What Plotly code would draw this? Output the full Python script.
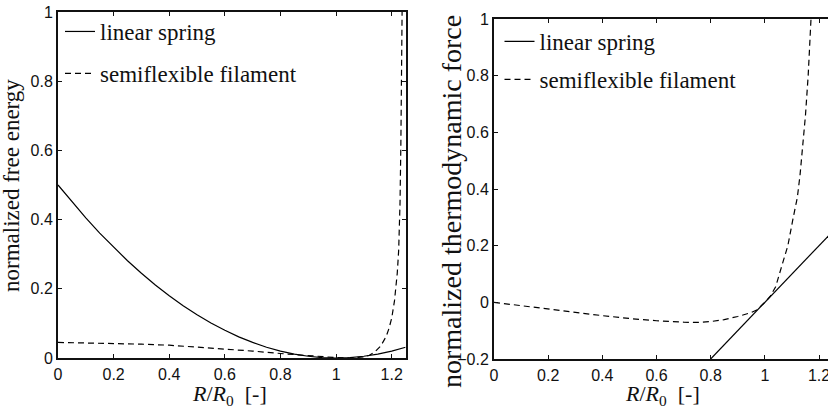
import plotly.graph_objects as go

# ---------------- data ----------------
spring_energy_x = [0, 0.05, 0.1, 0.15, 0.2, 0.25, 0.3, 0.35, 0.4, 0.45, 0.5, 0.55, 0.6,
                   0.65, 0.7, 0.75, 0.8, 0.85, 0.9, 0.95, 1.0, 1.05, 1.1, 1.15, 1.2, 1.25]
spring_energy_y = [0.5, 0.451, 0.405, 0.361, 0.32, 0.281, 0.245, 0.211, 0.18, 0.151, 0.125,
                   0.101, 0.08, 0.061, 0.045, 0.031, 0.02, 0.011, 0.005, 0.001, 0.0, 0.001,
                   0.005, 0.011, 0.02, 0.031]

semi_energy_x = [0, 0.1, 0.2, 0.3, 0.4, 0.5, 0.6, 0.7, 0.8, 0.9, 0.95, 1.0, 1.05, 1.1,
                 1.12, 1.14, 1.16, 1.18, 1.19, 1.2, 1.21, 1.22, 1.225, 1.23, 1.233, 1.235,
                 1.237, 1.238]
semi_energy_y = [0.045, 0.044, 0.043, 0.040, 0.037, 0.032, 0.027, 0.020, 0.013, 0.006,
                 0.003, 0.001, 0.0, 0.003, 0.008, 0.018, 0.034, 0.062, 0.085, 0.115, 0.165,
                 0.245, 0.31, 0.45, 0.62, 0.80, 1.0, 1.05]

spring_force_x = [0.8, 0.9, 1.0, 1.1, 1.2, 1.25]
spring_force_y = [-0.2, -0.1, 0.0, 0.1, 0.2, 0.25]

semi_force_x = [0, 0.1, 0.2, 0.3, 0.4, 0.5, 0.6, 0.7, 0.75, 0.8, 0.85, 0.9, 0.95, 0.97,
                1.0, 1.02, 1.04, 1.06, 1.085, 1.105, 1.12, 1.13, 1.14, 1.15, 1.16, 1.169,
                1.173]
semi_force_y = [0.0, -0.012, -0.025, -0.036, -0.047, -0.057, -0.065, -0.070, -0.071,
                -0.068, -0.061, -0.050, -0.036, -0.027, 0.0, 0.022, 0.055, 0.12, 0.2, 0.3,
                0.37, 0.45, 0.55, 0.66, 0.8, 1.0, 1.05]

x_ticks = [0, 0.2, 0.4, 0.6, 0.8, 1, 1.2]
x_tick_text = ["0", "0.2", "0.4", "0.6", "0.8", "1", "1.2"]
y_ticks_left = [0, 0.2, 0.4, 0.6, 0.8, 1]
y_tick_text_left = ["0", "0.2", "0.4", "0.6", "0.8", "1"]
y_ticks_right = [-0.2, 0, 0.2, 0.4, 0.6, 0.8, 1]
y_tick_text_right = ["\u22120.2", "0", "0.2", "0.4", "0.6", "0.8", "1"]

labels = ["linear spring", "semiflexible filament"]
xlabel = "<i>R</i>/<i>R</i><sub>0</sub>  [-]"
ylabel_left = "normalized free energy"
ylabel_right = "normalized thermodynamic force"

# ---------------- figure ----------------
W, H = 828, 410
SERIF = "Liberation Serif"
SANS = "Liberation Sans"
INK = "#111111"

fig = go.Figure()
line_solid = dict(color="black", width=1.2)
line_dash = dict(color="black", width=1.2, dash="6px,4px")

fig.add_trace(go.Scatter(x=spring_energy_x, y=spring_energy_y, mode="lines", line=line_solid,
                         name=labels[0], legendgroup="a", legend="legend",
                         xaxis="x", yaxis="y"))
fig.add_trace(go.Scatter(x=semi_energy_x, y=semi_energy_y, mode="lines", line=line_dash,
                         name=labels[1], legendgroup="b", legend="legend",
                         xaxis="x", yaxis="y"))
fig.add_trace(go.Scatter(x=spring_force_x, y=spring_force_y, mode="lines", line=line_solid,
                         name=labels[0], legendgroup="c", legend="legend2",
                         xaxis="x2", yaxis="y2"))
fig.add_trace(go.Scatter(x=semi_force_x, y=semi_force_y, mode="lines", line=line_dash,
                         name=labels[1], legendgroup="d", legend="legend2",
                         xaxis="x2", yaxis="y2"))


def px_x(p):
    return p / W


def px_y(p):
    return (H - p) / H


axis_common = dict(showgrid=False, zeroline=False, showline=True, linecolor=INK, linewidth=2,
                   ticks="inside", ticklen=4, tickwidth=1, tickcolor=INK,
                   tickfont=dict(family=SANS, size=16, color=INK), automargin=False,
                   ticklabeloverflow="allow")

fig.update_layout(
    width=W, height=H, margin=dict(l=0, r=0, t=0, b=0),
    paper_bgcolor="white", plot_bgcolor="white",
    xaxis=dict(domain=[px_x(58), px_x(405.6)], range=[0, 1.25], tickvals=x_ticks,
               ticktext=x_tick_text, mirror="ticks", anchor="y", ticklabelstandoff=1,
               **axis_common),
    yaxis=dict(domain=[px_y(358), px_y(12)], range=[0, 1], tickvals=y_ticks_left,
               ticktext=y_tick_text_left, mirror="ticks", anchor="x", ticklabelstandoff=0,
               **axis_common),
    xaxis2=dict(domain=[px_x(494), 1.0], range=[0, 1.2332], tickvals=x_ticks,
                ticktext=x_tick_text, mirror="ticks", anchor="y2", ticklabelstandoff=1,
                **axis_common),
    yaxis2=dict(domain=[px_y(359), px_y(19)], range=[-0.2, 1], tickvals=y_ticks_right,
                ticktext=y_tick_text_right, mirror=False, anchor="x2", ticklabelstandoff=0,
                **axis_common),
    legend=dict(x=px_x(60), y=px_y(10), xanchor="left", yanchor="top",
                bgcolor="rgba(0,0,0,0)", borderwidth=0, tracegroupgap=9, itemwidth=30,
                font=dict(family=SERIF, size=23, color=INK)),
    legend2=dict(x=px_x(499.5), y=px_y(20), xanchor="left", yanchor="top",
                 bgcolor="rgba(0,0,0,0)", borderwidth=0, tracegroupgap=5, itemwidth=30,
                 font=dict(family=SERIF, size=23, color=INK)),
    annotations=[
        dict(text=ylabel_left, x=px_x(12), y=px_y(186), xref="paper", yref="paper",
             textangle=-90, showarrow=False, xanchor="center", yanchor="middle",
             font=dict(family=SERIF, size=23, color=INK)),
        dict(text=ylabel_right, x=px_x(451), y=px_y(202), xref="paper", yref="paper",
             textangle=-90, showarrow=False, xanchor="center", yanchor="middle",
             font=dict(family=SERIF, size=28, color=INK)),
        dict(text=xlabel, x=px_x(229), y=px_y(395), xref="paper", yref="paper",
             showarrow=False, xanchor="center", yanchor="middle",
             font=dict(family=SERIF, size=22, color=INK)),
        dict(text=xlabel, x=px_x(662), y=px_y(395), xref="paper", yref="paper",
             showarrow=False, xanchor="center", yanchor="middle",
             font=dict(family=SERIF, size=22, color=INK)),
    ],
)

fig.write_html("out.html", config={"displayModeBar": False},
               post_script="document.body.style.margin='0px';")
